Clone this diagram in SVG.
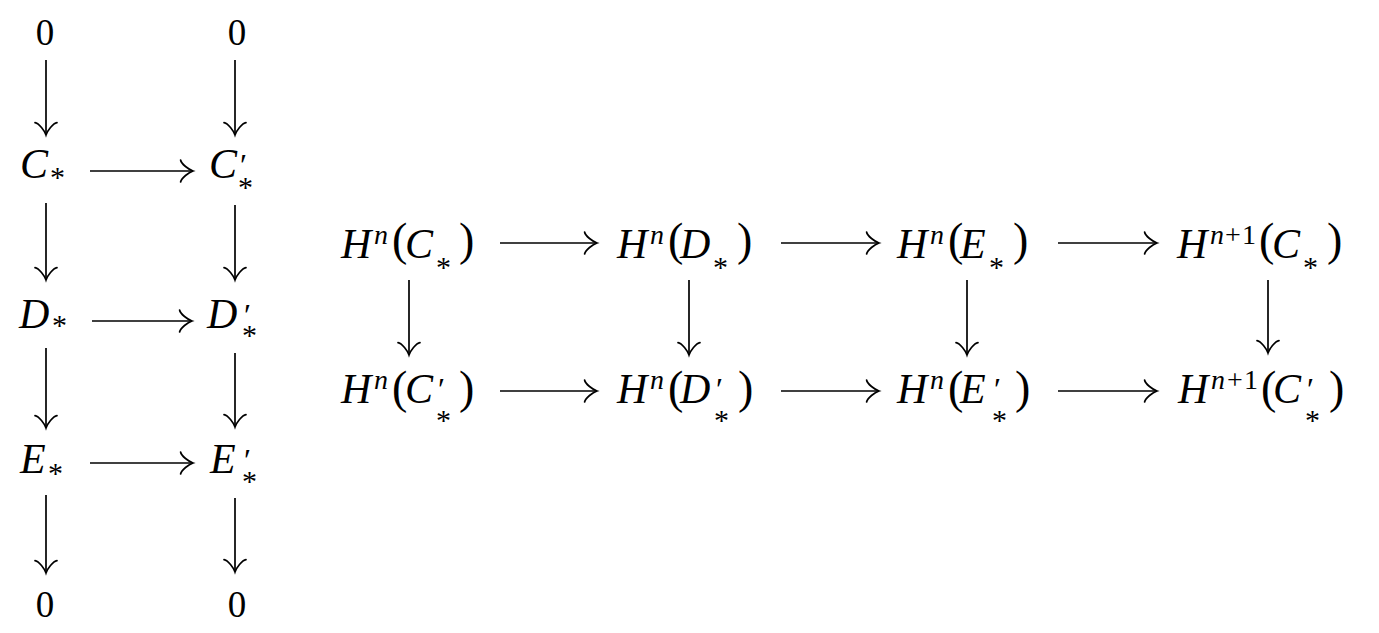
<svg xmlns="http://www.w3.org/2000/svg" width="1379" height="633" viewBox="0 0 1379 633">
<style>
text { font-family: "Liberation Serif", "Times New Roman", serif; fill: #000; font-size: 42px; }
.m { font-style: italic; font-size: 42px; }
.z { font-size: 37px; text-anchor: middle; }
.s { font-style: italic; font-size: 28px; }
.sr { font-size: 28px; font-style: normal; }
.p { font-size: 46px; font-style: normal; }
.a { font-size: 30px; font-style: normal; }
.q { font-size: 32px; font-style: normal; }
.c line { stroke: #000; stroke-width: 1.7; marker-end: url(#arr); }
</style>
<defs>
<marker id="arr" markerUnits="userSpaceOnUse" viewBox="-16 -14 20 28" refX="0" refY="0" markerWidth="20" markerHeight="28" orient="auto" overflow="visible">
<path d="M-12.4,-11 C-11.7,-6.9 -4.1,-1.4 0,0 C-4.1,1.4 -11.7,6.9 -12.4,11" fill="none" stroke="#000" stroke-width="1.7" stroke-linecap="round"/>
</marker>
</defs>

<!-- Left diagram nodes -->
<g id="zero-tl"><text class="z" x="45" y="45">0</text></g>
<g id="zero-tr"><text class="z" x="237" y="45">0</text></g>
<g id="C"><text><tspan class="m" x="20" y="178">C</tspan><tspan class="a" x="50" y="187">*</tspan></text></g>
<g id="Cp"><text><tspan class="m" x="209" y="178">C</tspan><tspan class="q" x="240" y="176">′</tspan><tspan class="a" x="238" y="197">*</tspan></text></g>
<g id="D"><text><tspan class="m" x="19" y="328">D</tspan><tspan class="a" x="52" y="335">*</tspan></text></g>
<g id="Dp"><text><tspan class="m" x="207" y="328">D</tspan><tspan class="q" x="244" y="326">′</tspan><tspan class="a" x="242" y="345">*</tspan></text></g>
<g id="E"><text><tspan class="m" x="20" y="473">E</tspan><tspan class="a" x="48" y="483">*</tspan></text></g>
<g id="Ep"><text><tspan class="m" x="210" y="473">E</tspan><tspan class="q" x="244" y="471">′</tspan><tspan class="a" x="242" y="491">*</tspan></text></g>
<g id="zero-bl"><text class="z" x="45" y="617">0</text></g>
<g id="zero-br"><text class="z" x="237" y="617">0</text></g>

<!-- Right diagram top row -->
<g id="HnC"><text><tspan class="m" x="341" y="258">H</tspan><tspan class="s" x="374" y="244">n</tspan><tspan class="p" x="392" y="255">(</tspan><tspan class="m" x="405" y="258">C</tspan><tspan class="a" x="436" y="277">*</tspan><tspan class="p" x="459" y="255">)</tspan></text></g>
<g id="HnD"><text><tspan class="m" x="617" y="258">H</tspan><tspan class="s" x="650" y="244">n</tspan><tspan class="p" x="668" y="255">(</tspan><tspan class="m" x="680" y="258">D</tspan><tspan class="a" x="713" y="277">*</tspan><tspan class="p" x="737" y="255">)</tspan></text></g>
<g id="HnE"><text><tspan class="m" x="897" y="258">H</tspan><tspan class="s" x="930" y="244">n</tspan><tspan class="p" x="948" y="255">(</tspan><tspan class="m" x="960" y="258">E</tspan><tspan class="a" x="989" y="277">*</tspan><tspan class="p" x="1013" y="255">)</tspan></text></g>
<g id="Hn1C"><text><tspan class="m" x="1177" y="258">H</tspan><tspan class="s" x="1210" y="244">n</tspan><tspan class="sr" x="1225" y="244">+</tspan><tspan class="sr" x="1242" y="244">1</tspan><tspan class="p" x="1259" y="255">(</tspan><tspan class="m" x="1272" y="258">C</tspan><tspan class="a" x="1303" y="277">*</tspan><tspan class="p" x="1327" y="255">)</tspan></text></g>

<!-- Right diagram bottom row -->
<g id="HnCp"><text><tspan class="m" x="341" y="403">H</tspan><tspan class="s" x="374" y="389">n</tspan><tspan class="p" x="392" y="403">(</tspan><tspan class="m" x="405" y="403">C</tspan><tspan class="q" x="438" y="400">′</tspan><tspan class="a" x="436" y="430">*</tspan><tspan class="p" x="459" y="403">)</tspan></text></g>
<g id="HnDp"><text><tspan class="m" x="617" y="403">H</tspan><tspan class="s" x="650" y="389">n</tspan><tspan class="p" x="668" y="403">(</tspan><tspan class="m" x="680" y="403">D</tspan><tspan class="q" x="716" y="400">′</tspan><tspan class="a" x="714" y="430">*</tspan><tspan class="p" x="738" y="403">)</tspan></text></g>
<g id="HnEp"><text><tspan class="m" x="897" y="403">H</tspan><tspan class="s" x="930" y="389">n</tspan><tspan class="p" x="948" y="403">(</tspan><tspan class="m" x="960" y="403">E</tspan><tspan class="q" x="994" y="400">′</tspan><tspan class="a" x="992" y="430">*</tspan><tspan class="p" x="1015" y="403">)</tspan></text></g>
<g id="Hn1Cp"><text><tspan class="m" x="1178" y="403">H</tspan><tspan class="s" x="1211" y="389">n</tspan><tspan class="sr" x="1227" y="389">+</tspan><tspan class="sr" x="1244" y="389">1</tspan><tspan class="p" x="1261" y="403">(</tspan><tspan class="m" x="1273" y="403">C</tspan><tspan class="q" x="1307" y="400">′</tspan><tspan class="a" x="1305" y="430">*</tspan><tspan class="p" x="1329" y="403">)</tspan></text></g>

<!-- Connectors -->
<g id="connectors" class="c">
<line x1="46" y1="60" x2="46" y2="135"/>
<line x1="46" y1="203" x2="46" y2="280"/>
<line x1="46" y1="348" x2="46" y2="428"/>
<line x1="46" y1="495" x2="46" y2="573"/>
<line x1="235" y1="60" x2="235" y2="135"/>
<line x1="235" y1="205" x2="235" y2="280"/>
<line x1="235" y1="353" x2="235" y2="427"/>
<line x1="235" y1="498" x2="235" y2="572"/>
<line x1="90" y1="171" x2="193" y2="171"/>
<line x1="92" y1="321" x2="192" y2="321"/>
<line x1="90" y1="463" x2="193" y2="463"/>
<line x1="500" y1="243" x2="597" y2="243"/>
<line x1="781" y1="243" x2="879" y2="243"/>
<line x1="1058" y1="243" x2="1157" y2="243"/>
<line x1="500" y1="391" x2="597" y2="391"/>
<line x1="781" y1="391" x2="879" y2="391"/>
<line x1="1058" y1="391" x2="1157" y2="391"/>
<line x1="409" y1="280" x2="409" y2="355"/>
<line x1="689" y1="280" x2="689" y2="355"/>
<line x1="967" y1="280" x2="967" y2="355"/>
<line x1="1268" y1="280" x2="1268" y2="353"/>
</g>
</svg>
